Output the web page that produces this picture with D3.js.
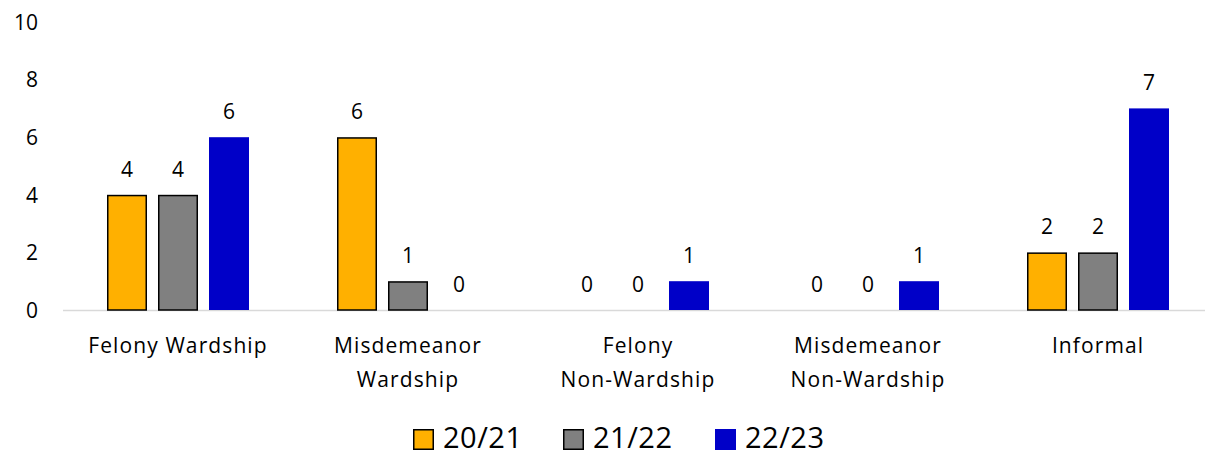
<!DOCTYPE html>
<html><head><meta charset="utf-8">
<script src="https://cdn.jsdelivr.net/npm/d3@7"></script>
<style>body{margin:0;background:#fff;} svg{display:block;font-family:"Open Sans",sans-serif;}</style>
</head><body>
<svg id="c" width="1205" height="457"></svg>
<script>
const categories = [["Felony Wardship"],["Misdemeanor","Wardship"],["Felony","Non-Wardship"],["Misdemeanor","Non-Wardship"],["Informal"]];
const seriesNames = ["20/21","21/22","22/23"];
const s2021 = [4,6,0,0,2];
const s2122 = [4,1,0,0,2];
const s2223 = [6,0,1,1,7];
const yTicks = [0,2,4,6,8,10];
const colors = ["#FFB000","#808080","#0000C8"];
const strokes = ["#000","#000","none"];

const svg = d3.select("#c");
const values = [s2021,s2122,s2223];
const x0 = d3.scaleBand().domain(d3.range(categories.length)).range([63,1213]).paddingInner(0).paddingOuter(0);
const groupW = 40*3+11*2;
const x1 = d3.scaleBand().domain(d3.range(3)).range([0,groupW]).paddingInner(11/51).paddingOuter(0);
const y = d3.scaleLinear().domain([0,10]).range([310,22]);

// baseline
svg.append("line").attr("x1",63).attr("x2",1205).attr("y1",y(0)+0.5).attr("y2",y(0)+0.5).attr("stroke","#d9d9d9").attr("stroke-width",1.5);

// y axis labels
const yAxis = d3.axisLeft(y).tickValues(yTicks).tickSize(0).tickPadding(0);
const ga = svg.append("g").attr("transform","translate(38,0)").call(yAxis);
ga.select(".domain").remove();
ga.selectAll("text").attr("font-size",21).attr("fill","#000").attr("font-family","'Open Sans',sans-serif").attr("dy","0.35em");

categories.forEach((cat,i)=>{
  const gx = x0(i) + (x0.bandwidth()-groupW)/2;
  values.forEach((vals,s)=>{
    const v = vals[i];
    const bx = gx + x1(s);
    if(v>0){
      svg.append("rect").attr("x",bx+ (strokes[s]!=="none"?0.75:0)).attr("y",y(v)+(strokes[s]!=="none"?0.75:0))
        .attr("width",x1.bandwidth()-(strokes[s]!=="none"?1.5:0)).attr("height",y(0)-y(v)-(strokes[s]!=="none"?0.75:0))
        .attr("fill",colors[s]).attr("stroke",strokes[s]).attr("stroke-width",1.5);
    }
    svg.append("text").attr("x",bx+x1.bandwidth()/2).attr("y",y(v)-18).attr("text-anchor","middle")
      .attr("font-size",21).attr("fill","#000").text(v);
  });
  const cx = x0(i)+x0.bandwidth()/2;
  const t = svg.append("text").attr("x",cx).attr("y",353).attr("text-anchor","middle").attr("font-size",21).attr("letter-spacing",1.1).attr("fill","#000");
  cat.forEach((line,k)=>{
    t.append("tspan").attr("x",cx).attr("y",353+k*34).text(line);
  });
});

// legend
const legendX = [413,563,715];
seriesNames.forEach((n,s)=>{
  const sq = strokes[s]!=="none";
  svg.append("rect").attr("x",legendX[s]+(sq?0.75:0)).attr("y",429+(sq?0.75:0)).attr("width",sq?19.5:21).attr("height",sq?19.5:21)
    .attr("fill",colors[s]).attr("stroke",strokes[s]).attr("stroke-width",1.5);
  svg.append("text").attr("x",legendX[s]+30).attr("y",448).attr("font-size",29).attr("letter-spacing",0.5).attr("fill","#000").text(n);
});
</script>
</body></html>
